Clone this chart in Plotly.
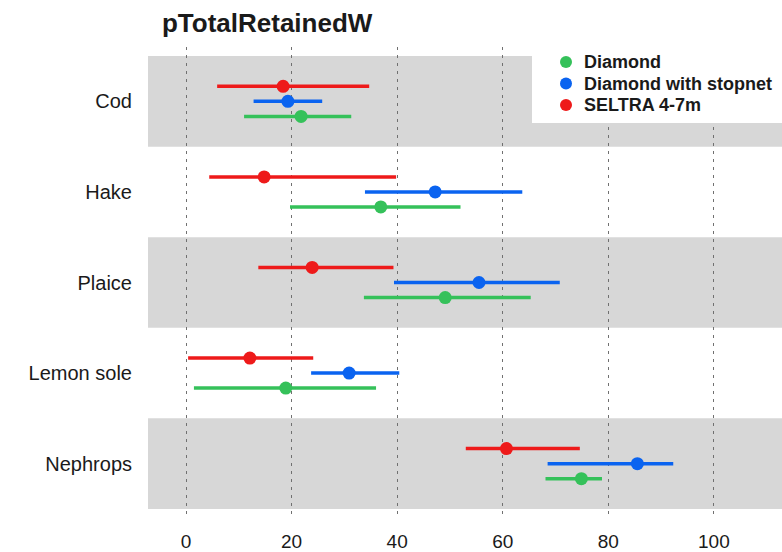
import plotly.graph_objects as go

categories = ["Cod", "Hake", "Plaice", "Lemon sole", "Nephrops"]
series_names = ["Diamond", "Diamond with stopnet", "SELTRA 4-7m"]

diamond_mid = [21.8, 36.9, 49.1, 18.9, 74.9]
diamond_lo = [11.0, 19.7, 33.7, 1.5, 68.1]
diamond_hi = [31.3, 52.0, 65.3, 36.0, 78.8]

stopnet_mid = [19.3, 47.2, 55.5, 30.9, 85.5]
stopnet_lo = [12.8, 33.9, 39.4, 23.7, 68.5]
stopnet_hi = [25.8, 63.7, 70.8, 40.4, 92.3]

seltra_mid = [18.4, 14.8, 23.9, 12.1, 60.7]
seltra_lo = [5.9, 4.4, 13.7, 0.4, 53.0]
seltra_hi = [34.7, 39.8, 39.3, 24.1, 74.6]

x_ticks = [0, 20, 40, 60, 80, 100]

colors = ["#35c15a", "#0a63f0", "#ee1a1a"]
offsets = [0.166, 0.0, -0.166]
mids = [diamond_mid, stopnet_mid, seltra_mid]
los = [diamond_lo, stopnet_lo, seltra_lo]
his = [diamond_hi, stopnet_hi, seltra_hi]

FONT = "Liberation Sans, Arial, sans-serif"

# plot area geometry (pixels) used for converting legend placement
L, R, T, B = 148, 782, 47, 518
def px(xp):
    return (xp - L) / (R - L)
def py(yp):
    return (B - yp) / (B - T)

fig = go.Figure()
for name, col, off, m, lo, hi in zip(series_names, colors, offsets, mids, los, his):
    fig.add_trace(go.Scatter(
        x=m,
        y=[i + off for i in range(len(categories))],
        mode="markers",
        name=name,
        showlegend=False,
        marker=dict(color=col, size=13),
        error_x=dict(
            type="data", symmetric=False,
            array=[h - v for h, v in zip(hi, m)],
            arrayminus=[v - l for v, l in zip(m, lo)],
            color=col, thickness=3.5, width=0,
        ),
    ))

shapes = []
for i in range(0, len(categories), 2):
    shapes.append(dict(type="rect", xref="paper", yref="y", x0=0, x1=1,
                       y0=i - 0.5, y1=i + 0.5, fillcolor="#d7d7d7",
                       line=dict(width=0), layer="below"))

# legend box (manual legend for tight row spacing)
shapes.append(dict(type="rect", xref="paper", yref="paper", x0=px(532), x1=1.0,
                   y0=py(123), y1=1.0, fillcolor="white", line=dict(width=0),
                   layer="above"))
annotations = []
legend_rows = [62, 83.5, 105]
for name, col, yrow in zip(series_names, colors, legend_rows):
    shapes.append(dict(type="circle", xref="paper", yref="paper",
                       xsizemode="pixel", ysizemode="pixel",
                       xanchor=px(566), yanchor=py(yrow),
                       x0=-6, x1=6, y0=-6, y1=6,
                       fillcolor=col, line=dict(width=0), layer="above"))
    annotations.append(dict(text="<b>" + name + "</b>", xref="paper", yref="paper",
                            x=px(582), y=py(yrow), xanchor="left", yanchor="middle",
                            showarrow=False,
                            font=dict(size=18, family=FONT, color="#1a1a1a")))

fig.update_layout(
    width=782, height=552,
    margin=dict(l=L, r=782 - R, t=T, b=552 - B),
    plot_bgcolor="white", paper_bgcolor="white",
    shapes=shapes,
    annotations=annotations,
    showlegend=False,
    font=dict(family=FONT, color="#1a1a1a"),
    title=dict(text="<b>pTotalRetainedW</b>", x=0.022, xref="paper", xanchor="left",
               y=1 - 23 / 552, yref="container", yanchor="middle",
               font=dict(size=26, color="#1a1a1a", family=FONT)),
    xaxis=dict(range=[-7.2, 112.9], tickvals=x_ticks,
               showgrid=True, gridcolor="#707070", griddash="3px,5px", gridwidth=1,
               zeroline=False, showline=False, ticks="",
               ticklabelstandoff=10,
               tickfont=dict(size=19, family=FONT, color="#1a1a1a")),
    yaxis=dict(range=[4.6, -0.6], tickvals=list(range(len(categories))),
               ticktext=categories, showgrid=False, zeroline=False,
               showline=False, ticks="", ticklabelstandoff=15,
               tickfont=dict(size=20, family=FONT, color="#1a1a1a")),
)

fig.write_html("out.html")
